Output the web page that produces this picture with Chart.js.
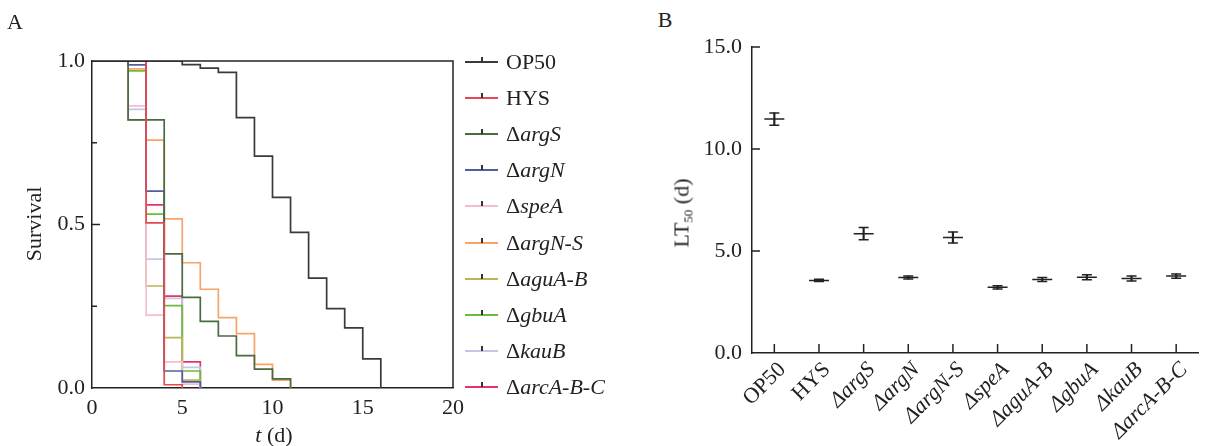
<!DOCTYPE html>
<html><head><meta charset="utf-8">
<script src="https://cdn.jsdelivr.net/npm/chart.js@4.4.1/dist/chart.umd.min.js"></script>
<style>
html,body{margin:0;padding:0;background:#fff;width:1210px;height:446px;overflow:hidden;font-family:"Liberation Serif","Times New Roman",serif;color:#222}
#cA{position:absolute;left:0;top:0}
#cB{position:absolute;left:690px;top:0}
.lbl{position:absolute;font-size:22px;white-space:nowrap;line-height:22px}
.rot{transform:translate(-50%,-50%) rotate(-90deg)}
.ctr{transform:translate(-50%,-50%)}
.li{position:absolute;left:465px;height:24px;width:200px}
.li .ln{position:absolute;left:0;top:11px;width:33px;height:2px}
.li .tk{position:absolute;left:16px;top:7px;width:1.5px;height:5px;background:#333}
.li .tx{position:absolute;left:41px;top:0;font-size:22px;line-height:24px}
sub{font-size:13px;vertical-align:-4px}
</style>
</head><body>
<canvas id="cA" width="480" height="446"></canvas>
<canvas id="cB" width="520" height="446"></canvas>
<div id="overlay"></div>
<script>
// ---- Panel A: Kaplan-Meier survival data ----
const seriesNames = ['OP50','HYS','ΔargS','ΔargN','ΔspeA','ΔargN-S','ΔaguA-B','ΔgbuA','ΔkauB','ΔarcA-B-C'];
const seriesColors = ['#3a3a3a','#e5484e','#4a6b42','#4f5fa6','#f6bcd4','#f6a469','#b9b656','#6abd3a','#c6c6e4','#e8326b'];
const op50T = [0,5,6,7,8,9,10,11,12,13,14,15,16];
const op50S = [1,0.989,0.978,0.965,0.827,0.709,0.583,0.476,0.336,0.243,0.184,0.089,0];
const hysT = [0,3,4,5];
const hysS = [1,0.505,0.01,0];
const argST = [0,2,4,5,6,7,8,9,10,11];
const argSS = [1,0.82,0.41,0.277,0.204,0.159,0.099,0.058,0.028,0];
const argNT = [0,2,3,4,5,6];
const argNS = [1,0.988,0.602,0.052,0.019,0];
const speAT = [0,2,3,4,5,6];
const speAS = [1,0.863,0.223,0.08,0.012,0];
const argNST = [0,2,3,4,5,6,7,8,9,10,11];
const argNSS = [1,0.976,0.758,0.517,0.383,0.302,0.215,0.166,0.072,0.024,0];
const aguABT = [0,2,3,4,5,6];
const aguABS = [1,0.82,0.312,0.154,0.024,0];
const gbuAT = [0,2,3,4,5,6];
const gbuAS = [1,0.97,0.532,0.252,0.052,0];
const kauBT = [0,2,3,4,5,6];
const kauBS = [1,0.852,0.394,0.274,0.063,0];
const arcT = [0,3,4,5,6];
const arcS = [1,0.56,0.281,0.08,0];
const aXTicks = [0,5,10,15,20];
const aYMajor = [0,0.5,1.0];
const aYMinor = [0.25,0.75];

// ---- Panel B: LT50 data ----
const strains = ['OP50','HYS','ΔargS','ΔargN','ΔargN-S','ΔspeA','ΔaguA-B','ΔgbuA','ΔkauB','ΔarcA-B-C'];
const lt50 = [11.47,3.56,5.85,3.70,5.66,3.22,3.60,3.71,3.65,3.77];
const lt50Err = [0.30,0.05,0.30,0.07,0.27,0.08,0.10,0.12,0.12,0.10];
const bYTicks = [0,5,10,15];

const FONT = '"Liberation Serif","Times New Roman",serif';
const AX = '#222';

const allT = [op50T,hysT,argST,argNT,speAT,argNST,aguABT,gbuAT,kauBT,arcT];
const allS = [op50S,hysS,argSS,argNS,speAS,argNSS,aguABS,gbuAS,kauBS,arcS];

const decor = {
  id:'decor',
  afterDraw(chart, args, o){
    const ctx = chart.ctx, a = chart.chartArea;
    ctx.save(); ctx.strokeStyle = AX; ctx.lineWidth = 1.5;
    (o.yTicks||[]).forEach(t=>{
      const y = chart.scales.y.getPixelForValue(t[0]);
      ctx.beginPath(); ctx.moveTo(a.left, y); ctx.lineTo(a.left + t[1], y); ctx.stroke();
    });
    if (o.xCat) {
      chart.scales.x.ticks.forEach((tk,i)=>{
        const x = chart.scales.x.getPixelForTick(i);
        ctx.beginPath(); ctx.moveTo(x, a.bottom); ctx.lineTo(x, a.bottom - o.xCat); ctx.stroke();
      });
    }
    if (o.frame) {
      ctx.beginPath(); ctx.moveTo(a.left, a.top); ctx.lineTo(a.right, a.top); ctx.lineTo(a.right, a.bottom); ctx.stroke();
    }
    ctx.restore();
  }
};

new Chart(document.getElementById('cA'), {
  type:'line',
  data:{ datasets: seriesNames.map((n,i)=>({
    label:n,
    data: allT[i].map((t,j)=>({x:t, y:allS[i][j]})),
    borderColor: seriesColors[i], borderWidth:1.7, stepped:true,
    pointRadius:0, fill:false
  })) },
  options:{
    responsive:false, animation:false,
    layout:{padding:{left:0, top:61, right:27, bottom:0}},
    plugins:{ legend:{display:false}, tooltip:{enabled:false},
      decor:{ yTicks: aYMajor.filter(v=>v>0&&v<1).map(v=>[v,8]).concat(aYMinor.map(v=>[v,5])), frame:true } },
    scales:{
      x:{ type:'linear', min:0, max:20,
        afterBuildTicks: s=>{ s.ticks = aXTicks.map(v=>({value:v})); },
        afterFit: s=>{ s.height = 58; },
        grid:{display:true, drawOnChartArea:false, drawTicks:false},
        border:{color:AX, width:1.5},
        ticks:{ color:AX, padding:7, font:{family:FONT, size:22} } },
      y:{ type:'linear', min:0, max:1,
        afterBuildTicks: s=>{ s.ticks = aYMajor.map(v=>({value:v})); },
        afterFit: s=>{ s.width = 92; },
        grid:{display:true, drawOnChartArea:false, drawTicks:false},
        border:{color:AX, width:1.5},
        ticks:{ color:AX, padding:7, font:{family:FONT, size:22}, callback:v=>Number(v).toFixed(1) } }
    }
  },
  plugins:[decor]
});

new Chart(document.getElementById('cB'), {
  data:{ labels: strains, datasets:[
    { type:'bar', data: lt50.map((m,i)=>[m-lt50Err[i], m+lt50Err[i]]), backgroundColor:AX, borderWidth:0, barThickness:1.5 },
    { type:'line', data: lt50, showLine:false, pointStyle:'line', pointRadius:10, pointBorderWidth:1.5, pointBorderColor:AX, pointBackgroundColor:AX },
    { type:'line', data: lt50.map((m,i)=>m-lt50Err[i]), showLine:false, pointStyle:'line', pointRadius:5, pointBorderWidth:1.5, pointBorderColor:AX },
    { type:'line', data: lt50.map((m,i)=>m+lt50Err[i]), showLine:false, pointStyle:'line', pointRadius:5, pointBorderWidth:1.5, pointBorderColor:AX }
  ]},
  options:{
    responsive:false, animation:false,
    layout:{padding:{left:0, top:47, right:0, bottom:0}},
    plugins:{ legend:{display:false}, tooltip:{enabled:false},
      decor:{ yTicks: bYTicks.filter(v=>v>0).map(v=>[v,8]), xCat:9 } },
    scales:{
      x:{ type:'category', offset:true,
        afterFit: s=>{ s.height = 93; },
        grid:{display:true, drawOnChartArea:false, drawTicks:false, offset:true},
        border:{color:AX, width:1.5},
        ticks:{ color:AX, padding:4, labelOffset:8, autoSkip:false, minRotation:45, maxRotation:45,
          font: c=>({family:FONT, size:22, style: (c.index>=2 ? 'italic' : 'normal')}) } },
      y:{ type:'linear', min:0, max:15,
        afterBuildTicks: s=>{ s.ticks = bYTicks.map(v=>({value:v})); },
        afterFit: s=>{ s.width = 62; },
        grid:{display:true, drawOnChartArea:false, drawTicks:false},
        border:{color:AX, width:1.5},
        ticks:{ color:AX, padding:10, font:{family:FONT, size:22}, callback:v=>Number(v).toFixed(1) } }
    }
  },
  plugins:[decor]
});

// ---- HTML text overlays & legend ----
const ov = document.getElementById('overlay');
function fmt(n){ return n.startsWith('Δ') ? 'Δ<i>'+n.slice(1)+'</i>' : n; }
ov.innerHTML =
  '<div class="lbl ctr" style="left:15px;top:22px">A</div>' +
  '<div class="lbl ctr" style="left:665px;top:20px">B</div>' +
  '<div class="lbl rot" style="left:34px;top:224px">Survival</div>' +
  '<div class="lbl ctr" style="left:274px;top:435px"><i>t</i> (d)</div>' +
  '<div class="lbl rot" style="left:685px;top:213px">LT<sub>50</sub> (d)</div>' +
  seriesNames.map((n,i)=>'<div class="li" style="top:'+(62+i*36.1-12).toFixed(1)+'px"><div class="ln" style="background:'+seriesColors[i]+'"></div><div class="tk"></div><div class="tx">'+fmt(n)+'</div></div>').join('');
</script>
</body></html>
